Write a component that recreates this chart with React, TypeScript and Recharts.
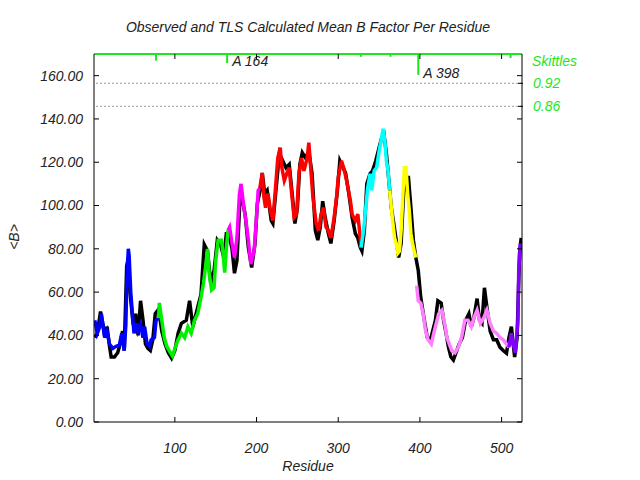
import { LineChart, Line, XAxis, YAxis, ReferenceLine } from "recharts";

// residue, mean B (observed)
const observed: [number, number][] = [
  [2, 39], [5, 41], [9, 51], [12, 45], [14, 40], [17, 44], [20, 35], [22, 30], [26, 30], [30, 32],
  [33, 36], [36, 42], [38, 33], [41, 72], [43, 76], [45, 60], [49, 45], [52, 50], [55, 40], [58, 56],
  [61, 47], [64, 36], [67, 34], [70, 33], [73, 38], [76, 50], [80, 52], [84, 42], [88, 36], [92, 32],
  [96, 29.5], [100, 33], [104, 41], [108, 45.6], [114, 47], [118, 56], [122, 44], [128, 53], [132, 59],
  [136, 82], [140, 79], [144, 64], [148, 70], [152, 84], [156, 82], [160, 76], [163, 87], [166, 87],
  [170, 80], [173, 68.7], [176, 74.6], [180, 105], [183, 102], [186, 96], [190, 80.6], [194, 71.4],
  [198, 82], [201, 101], [205, 108], [207, 115], [210, 105.5], [213, 107], [218, 93], [220, 91.7],
  [224, 108], [228, 124], [232, 120.7], [236, 117.5], [240, 119], [244, 104], [247, 91.7], [250, 99],
  [253, 119], [256, 124.4], [260, 122], [264, 125], [268, 114.7], [272, 88.5], [275, 84], [278, 90],
  [281, 102], [284, 94.5], [288, 87], [291, 82.5], [295, 93], [299, 107], [302, 120.7], [306, 117.5],
  [309, 115], [313, 105.5], [317, 94.5], [321, 87], [324, 85], [327, 80.6], [329, 79], [332, 88.5],
  [335, 110], [339, 114.7], [342, 116], [346, 120.7], [350, 126.7], [353, 131], [356, 133], [359, 124],
  [362, 111.5], [365, 99], [368, 91.7], [371, 84], [374, 76], [377, 82.5], [380, 105.5], [383, 113],
  [386, 113], [389, 99], [392, 84], [395, 76], [398, 70], [401, 57.6], [405, 48], [409, 39], [413, 38],
  [415, 41], [419, 47], [422, 56], [426, 55], [429, 47], [432, 41], [435, 34.5], [438, 30], [441, 28.6],
  [444, 31.8], [448, 36], [452, 39], [456, 47], [460, 50], [463, 44], [466, 48], [470, 57], [473, 47],
  [476, 45.6], [479, 62], [482, 53], [486, 42], [490, 38], [494, 38], [498, 34.5], [502, 33],
  [506, 31.8], [509, 39], [512, 44], [516, 30], [519, 39], [522, 78], [524, 85],
];

// TLS calculated, one array per TLS group
const tlsBlue: [number, number][] = [
  [2, 47], [5, 41], [8, 44], [10, 50], [14, 39], [17, 42], [20, 36], [24, 34], [28, 35], [32, 35.5],
  [35, 41], [38, 33], [40, 45], [41, 62], [43, 80], [44, 77], [46, 60], [48, 50], [50, 41], [53, 45.6],
  [55, 42], [58, 45], [61, 39], [63, 44], [66, 36], [69, 35], [71, 38], [75, 39], [77, 47], [80, 48],
];
const tlsGreen: [number, number][] = [
  [80, 48], [81, 55], [84, 47], [87, 39], [90, 35], [93, 33], [97, 30.5], [101, 35], [104, 38],
  [108, 41], [112, 39], [116, 44], [120, 41], [124, 47], [128, 50], [132, 57.6], [135, 64], [138, 73],
  [140, 80], [142, 68.7], [145, 61], [148, 62], [150, 74.6], [153, 84], [157, 84], [159, 78], [161, 69],
  [163, 80], [165, 88.5],
];
const tlsMagenta: [number, number][] = [
  [165, 88.5], [167, 90], [170, 82.5], [173, 76], [176, 85], [179, 105], [181, 110], [185, 97.7],
  [187, 93], [190, 84], [193, 73], [197, 79], [200, 94.5], [202, 107], [204, 108],
];
const tlsRed: [number, number][] = [
  [204, 108], [207, 115], [209, 104], [211, 99], [214, 105.5], [217, 97.7], [220, 93], [223, 107],
  [226, 122], [229, 126.7], [231, 117.5], [234, 111.5], [237, 114.7], [240, 117.5], [243, 105.5],
  [246, 94.5], [249, 96], [252, 115], [255, 122], [258, 116], [262, 122], [264, 129], [266, 119],
  [269, 104], [273, 91.7], [276, 88.5], [279, 96], [282, 99], [285, 90], [288, 88.5], [291, 85],
  [295, 94.5], [298, 104], [300, 113], [304, 120.7], [307, 117], [310, 112], [313, 106], [315, 102],
  [317, 96], [321, 93], [324, 96], [327, 85], [328, 80.6],
];
const tlsCyan: [number, number][] = [
  [328, 80.6], [331, 88.5], [333, 96], [336, 108], [339, 114.7], [341, 107], [344, 116], [347, 117.5],
  [350, 125], [353, 131], [355, 135.5], [357, 130], [359, 120.7], [361, 116], [363, 107],
];
const tlsYellow: [number, number][] = [
  [363, 107], [365, 99], [367, 91.7], [369, 85], [371, 82.5], [373, 78], [375, 79], [377, 88.5],
  [379, 104], [381, 117.5], [383, 117.5], [385, 105.5], [387, 97.7], [389, 87], [391, 82.5], [393, 79],
  [395, 76],
];
const tlsPink: [number, number][] = [
  [396, 63], [398, 56], [401, 55], [404, 50], [407, 42], [410, 38], [414, 36], [417, 41], [419, 44],
  [423, 50], [427, 51.6], [431, 44], [433, 39], [436, 36], [439, 33], [443, 32], [447, 34.5], [451, 39],
  [455, 47], [459, 47], [463, 44], [466, 48], [470, 51.6], [474, 45.6], [478, 48], [482, 51.6],
  [486, 45.6], [490, 42], [494, 41], [498, 39], [502, 38], [506, 36], [509, 34.5],
];
const tlsPurple: [number, number][] = [
  [509, 34.5], [512, 41], [514, 36], [517, 32], [520, 47], [521, 70], [523, 82.5],
];

const residueTicks = [100, 200, 300, 400, 500];
const bTicks = [0, 20, 40, 60, 80, 100, 120, 140, 160];
const skittlesTicks = [0.92, 0.86];

// skittles outliers drawn from the top edge
const skittleResidues = [77, 164, 328, 364, 398, 511];
const skittleScores = [0.979, 0.973, 0.989, 0.989, 0.942, 0.986];
const skittleLabels = ["", "A 164", "", "", "A 398", ""];

const X_DOMAIN: [number, number] = [1, 525];
const B_DOMAIN: [number, number] = [0, 170];
const SK_DOMAIN: [number, number] = [0.0372, 0.9964];

const GREEN = "#1ee61e";
const FONT = "'Liberation Sans', Arial, sans-serif";

const toRows = (pts: [number, number][]) => pts.map(([r, b]) => ({ r, b }));

const tlsGroups = [
  { name: "blue", color: "#0000ff", pts: tlsBlue },
  { name: "green", color: "#00f000", pts: tlsGreen },
  { name: "magenta", color: "#ff00ff", pts: tlsMagenta },
  { name: "red", color: "#ff0000", pts: tlsRed },
  { name: "cyan", color: "#00ffff", pts: tlsCyan },
  { name: "yellow", color: "#ffff00", pts: tlsYellow },
  { name: "pink", color: "#ff80ff", pts: tlsPink },
  { name: "purple", color: "#8000ff", pts: tlsPurple },
];

const tickFont = { fontFamily: FONT, fontStyle: "italic", fontSize: 14, fill: "#222" };

function SkittleLabel(props: any) {
  const { viewBox, text } = props;
  if (!viewBox || !text) return null;
  return (
    <text
      x={viewBox.x + 5}
      y={viewBox.y + viewBox.height}
      dy="0.25em"
      fontFamily={FONT}
      fontStyle="italic"
      fontSize={14}
      fill="#222"
    >
      {text}
    </text>
  );
}

export default function App() {
  return (
    <div
      style={{
        position: "fixed",
        left: 0,
        top: 0,
        width: 640,
        height: 480,
        background: "#fff",
      }}
    >
      <div
        style={{
          position: "absolute",
          left: 94,
          width: 428,
          top: 19,
          textAlign: "center",
          fontFamily: FONT,
          fontStyle: "italic",
          fontSize: 14,
          color: "#222",
        }}
      >
        Observed and TLS Calculated Mean B Factor Per Residue
      </div>
      <LineChart
        width={640}
        height={480}
        margin={{ top: 53, right: 58, bottom: 28, left: 24 }}
      >
        <XAxis
          dataKey="r"
          type="number"
          domain={X_DOMAIN}
          allowDataOverflow
          ticks={residueTicks}
          height={30}
          tickSize={-5}
          tickMargin={26}
          tick={tickFont}
          stroke="#000"
          label={{
            content: (p: any) => (
              <text
                x={p.viewBox.x + p.viewBox.width / 2}
                y={471}
                textAnchor="middle"
                fontFamily={FONT}
                fontStyle="italic"
                fontSize={14}
                fill="#222"
              >
                Residue
              </text>
            ),
          }}
        />
        <XAxis
          xAxisId="top"
          orientation="top"
          dataKey="r"
          type="number"
          domain={X_DOMAIN}
          allowDataOverflow
          ticks={residueTicks}
          height={1}
          tickSize={-5}
          tickFormatter={() => ""}
          axisLine={{ stroke: GREEN, strokeWidth: 2 }}
          tickLine={{ stroke: "#000" }}
        />
        <YAxis
          type="number"
          domain={B_DOMAIN}
          allowDataOverflow
          ticks={bTicks}
          width={70}
          tickSize={-5}
          tickMargin={16}
          tick={tickFont}
          tickFormatter={(v: number) => v.toFixed(2)}
          stroke="#000"
          label={{
            content: () => (
              <text
                x={19}
                y={237}
                transform="rotate(-90 19 237)"
                textAnchor="middle"
                fontFamily={FONT}
                fontStyle="italic"
                fontSize={14}
                fill="#222"
              >
                {"<B>"}
              </text>
            ),
          }}
        />
        <YAxis
          yAxisId="mirror"
          orientation="right"
          type="number"
          domain={B_DOMAIN}
          allowDataOverflow
          ticks={bTicks}
          width={1}
          tickSize={-5}
          tickFormatter={() => ""}
          stroke="#000"
        />
        <YAxis
          yAxisId="sk"
          orientation="right"
          type="number"
          domain={SK_DOMAIN}
          allowDataOverflow
          ticks={skittlesTicks}
          width={59}
          tickSize={-5}
          tickMargin={15}
          tick={{ ...tickFont, fill: GREEN }}
          tickFormatter={(v: number) => v.toFixed(2)}
          axisLine={false}
          tickLine={{ stroke: "#000" }}
          label={{
            content: () => (
              <text
                x={532}
                y={61}
                dy="0.35em"
                fontFamily={FONT}
                fontStyle="italic"
                fontSize={14}
                fill={GREEN}
              >
                Skittles
              </text>
            ),
          }}
        />
        {skittlesTicks.map((s) => (
          <ReferenceLine
            key={s}
            yAxisId="sk"
            y={s}
            stroke="#999"
            strokeDasharray="2 2"
          />
        ))}
        <Line
          data={toRows(observed)}
          dataKey="b"
          stroke="#000"
          strokeWidth={3.5}
          dot={false}
          isAnimationActive={false}
        />
        {tlsGroups.map((g) => (
          <Line
            key={g.name}
            data={toRows(g.pts)}
            dataKey="b"
            stroke={g.color}
            strokeWidth={3.5}
            dot={false}
            isAnimationActive={false}
          />
        ))}
        {skittleResidues.map((r, i) => (
          <ReferenceLine
            key={r}
            yAxisId="sk"
            segment={[
              { x: r, y: SK_DOMAIN[1] },
              { x: r, y: skittleScores[i] },
            ]}
            stroke={GREEN}
            strokeWidth={2}
            label={<SkittleLabel text={skittleLabels[i]} />}
          />
        ))}
      </LineChart>
    </div>
  );
}
